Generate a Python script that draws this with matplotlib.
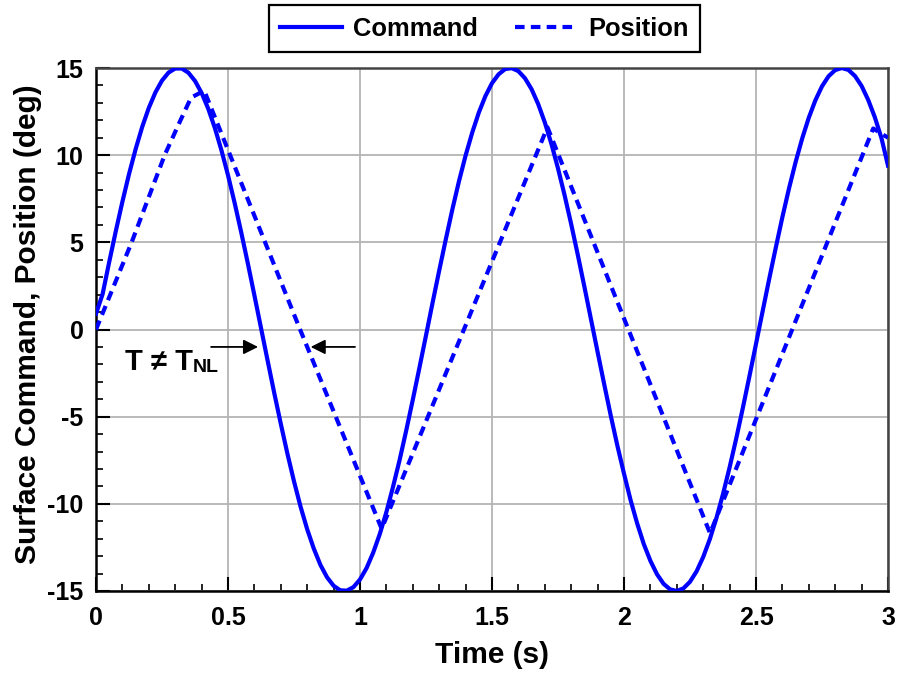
import matplotlib
matplotlib.use("Agg")
import matplotlib.pyplot as plt
import numpy as np
from matplotlib.ticker import MultipleLocator

plt.rcParams['font.family'] = ['Liberation Sans', 'DejaVu Sans']
plt.rcParams['font.weight'] = 'bold'

# ---- data ----
# command sampled every 0.025 s from t = 0 to 3 s
cmd_t = np.round(np.arange(121) * 0.025, 3)
cmd_v = [0.9, 2.03, 3.87, 5.64, 7.33, 8.91, 10.34, 11.62, 12.71, 13.60,
         14.28, 14.74, 14.97, 14.97, 14.73, 14.26, 13.57, 12.67, 11.57, 10.29,
         8.85, 7.27, 5.58, 3.80, 1.96, 0.09, -1.78, -3.63, -5.41, -7.12,
         -8.71, -10.17, -11.46, -12.57, -13.50, -14.21, -14.70, -14.96, -14.98, -14.78,
         -14.34, -13.68, -12.80, -11.73, -10.47, -9.03, -7.49, -5.80, -4.03, -2.20,
         -0.34, 1.54, 3.38, 5.17, 6.90, 8.51, 9.98, 11.29, 12.44, 13.39,
         14.13, 14.64, 14.94, 14.99, 14.82, 14.41, 13.78, 12.93, 11.88, 10.65,
         9.24, 7.70, 6.04, 4.28, 2.45, 0.58, -1.29, -3.14, -4.95, -6.67,
         -8.27, -9.79, -11.13, -12.31, -13.27, -14.04, -14.59, -14.91, -15.00, -14.85,
         -14.47, -13.87, -13.05, -12.03, -10.82, -9.44, -7.91, -6.26, -4.51, -2.69,
         -0.83, 1.04, 2.90, 4.70, 6.45, 8.09, 9.60, 10.96, 12.15, 13.15,
         13.95, 14.53, 14.88, 15.00, 14.89, 14.54, 13.97, 13.17, 12.18, 10.99,
         9.40]

pos_t = [0.0, 0.135, 0.26, 0.32, 0.36, 0.41, 0.773, 1.082, 1.71, 2.326, 2.944, 3.0]
pos_v = [0.0, 5.0, 10.0, 12.0, 13.3, 13.7, 0.0, -11.43, 11.6, -11.69, 11.53, 11.0]

x_ticks = [0, 0.5, 1, 1.5, 2, 2.5, 3]
x_labels = ['0', '0.5', '1', '1.5', '2', '2.5', '3']
y_ticks = [-15, -10, -5, 0, 5, 10, 15]
y_labels = ['-15', '-10', '-5', '0', '5', '10', '15']

series_names = ['Command', 'Position']

# ---- figure ----
fig = plt.figure(figsize=(8.99, 6.75), dpi=100)
ax = fig.add_axes([96/899, 1-591/675, (888-96)/899, (591-68)/675])

blue = '#0000FF'
ax.plot(cmd_t, cmd_v, color=blue, lw=3.0, solid_joinstyle='round', label=series_names[0], zorder=3)
ax.plot(pos_t, pos_v, color=blue, lw=3.0, linestyle=(0, (2.3, 1.5)), label=series_names[1], zorder=3)

ax.set_xlim(0, 3)
ax.set_ylim(-15, 15)
ax.set_xticks(x_ticks)
ax.set_xticklabels(x_labels)
ax.set_yticks(y_ticks)
ax.set_yticklabels(y_labels)
ax.xaxis.set_minor_locator(MultipleLocator(0.1))
ax.yaxis.set_minor_locator(MultipleLocator(1))
ax.tick_params(which='major', direction='in', length=10, width=1.5, color='black',
               labelsize=18, pad=9)
ax.tick_params(which='minor', direction='in', length=5, width=1.2, color='black')
ax.tick_params(axis='x', which='major', pad=11)
for lab in ax.get_xticklabels() + ax.get_yticklabels():
    lab.set_fontweight('bold')

ax.grid(True, which='major', color='#b4b4b4', lw=1.3)
ax.set_axisbelow(True)
for side in ['left', 'bottom']:
    ax.spines[side].set_color('black')
    ax.spines[side].set_linewidth(1.8)
for side in ['top', 'right']:
    ax.spines[side].set_color('#444444')
    ax.spines[side].set_linewidth(1.8)

ax.set_xlabel('Time (s)', fontsize=21.5, fontweight='bold', labelpad=8)
ax.set_ylabel('Surface Command, Position (deg)', fontsize=21.5, fontweight='bold')
ax.yaxis.set_label_coords(-0.068, 0.51)

leg = ax.legend(loc='center', bbox_to_anchor=(484.5/899, 1-28.5/675), bbox_transform=fig.transFigure,
                ncol=2, frameon=True, fancybox=False, shadow=False,
                handlelength=2.4, handletextpad=0.45, columnspacing=1.45, borderpad=0.45,
                prop={'weight': 'bold', 'size': 18.4})
leg.get_frame().set_edgecolor('black')
leg.get_frame().set_linewidth(1.6)
leg.get_frame().set_alpha(1)

# annotation T != T_NL
t1 = ax.text(0.11, -2.35, 'T \u2260 T', fontsize=21, fontweight='bold', ha='left', va='baseline')
ax.annotate('NL', xy=(1, 0), xycoords=t1, fontsize=14, fontweight='bold', ha='left', va='bottom')
arrow_kw = dict(arrowstyle='-|>', color='black', lw=1.3, mutation_scale=22, shrinkA=0, shrinkB=0)
ax.annotate('', xy=(0.614, -1.0), xytext=(0.436, -1.0), arrowprops=arrow_kw)
ax.annotate('', xy=(0.813, -1.0), xytext=(0.981, -1.0), arrowprops=arrow_kw)

fig.savefig('out.png', dpi=100)
